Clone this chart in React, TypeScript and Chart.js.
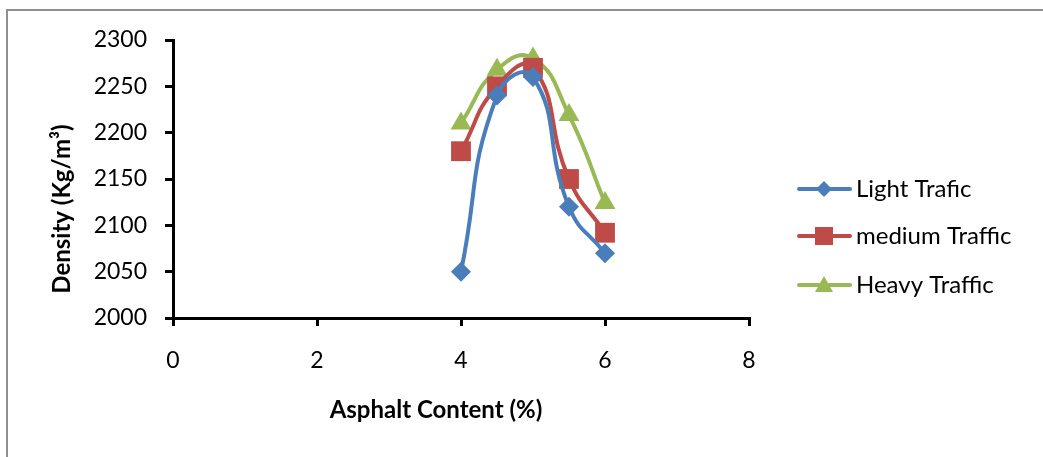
import React, { useEffect, useRef } from "react";
import { Chart, registerables } from "chart.js";

Chart.register(...registerables);

// Asphalt content (%) at which each mix was tested
const asphaltContent = [4, 4.5, 5, 5.5, 6];

// Density (Kg/m³) per traffic class
const lightTraffic = [2050, 2240, 2260, 2120, 2070];
const mediumTraffic = [2180, 2250, 2270, 2150, 2092];
const heavyTraffic = [2210, 2268, 2280, 2219, 2124];

const seriesNames = ["Light Trafic", "medium Traffic", "Heavy Traffic"];
const seriesColors = ["#4A7EBB", "#BE4B48", "#98B954"];
const seriesMarkers = ["rectRot", "rect", "triangle"];
const seriesRadius = [10, 14, 12];

const xTitle = "Asphalt Content (%)";
const yTitle = "Density (Kg/m³)";

const FONT = "Lato, 'Open Sans', sans-serif";

// Frame, axis captions and a line+marker legend drawn on the canvas
const decorations = {
  id: "decorations",
  beforeDraw(chart: any) {
    const { ctx } = chart;
    ctx.save();
    ctx.fillStyle = "#8f8f8f";
    ctx.fillRect(6, 9, chart.width, 2);
    ctx.fillRect(6, 9, 2, chart.height);
    ctx.restore();
  },
  afterDraw(chart: any) {
    const { ctx } = chart;
    ctx.save();
    ctx.fillStyle = "#000";
    ctx.font = `bold 24px ${FONT}`;
    ctx.textAlign = "center";
    ctx.textBaseline = "middle";
    ctx.fillText(xTitle, 436, 410);
    ctx.translate(62, 209);
    ctx.rotate(-Math.PI / 2);
    ctx.fillText(yTitle, 0, 0);
    ctx.restore();

    const rows = [189, 236, 285];
    chart.data.datasets.forEach((ds: any, i: number) => {
      const y = rows[i];
      const color = ds.borderColor;
      ctx.save();
      ctx.strokeStyle = color;
      ctx.lineWidth = 4;
      ctx.lineCap = "round";
      ctx.beginPath();
      ctx.moveTo(799, y);
      ctx.lineTo(850, y);
      ctx.stroke();
      ctx.fillStyle = color;
      ctx.beginPath();
      const cx = 824;
      if (i === 0) {
        ctx.moveTo(cx - 8, y);
        ctx.lineTo(cx, y - 8);
        ctx.lineTo(cx + 8, y);
        ctx.lineTo(cx, y + 8);
      } else if (i === 1) {
        ctx.rect(cx - 9, y - 9, 18, 18);
      } else {
        ctx.moveTo(cx, y - 9);
        ctx.lineTo(cx + 9, y + 7);
        ctx.lineTo(cx - 9, y + 7);
      }
      ctx.closePath();
      ctx.fill();
      ctx.fillStyle = "#000";
      ctx.font = `24px ${FONT}`;
      ctx.textAlign = "left";
      ctx.textBaseline = "middle";
      ctx.fillText(ds.label, 856, y);
      ctx.restore();
    });
  },
};

export default function App() {
  const canvasRef = useRef<HTMLCanvasElement | null>(null);

  useEffect(() => {
    const series = [lightTraffic, mediumTraffic, heavyTraffic];
    const chart = new Chart(canvasRef.current as HTMLCanvasElement, {
      type: "line",
      data: {
        datasets: series.map((values, i) => ({
          label: seriesNames[i],
          data: values.map((v, j) => ({ x: asphaltContent[j], y: v })),
          borderColor: seriesColors[i],
          backgroundColor: seriesColors[i],
          borderWidth: 4,
          tension: 0.5,
          pointStyle: seriesMarkers[i] as any,
          pointRadius: seriesRadius[i],
          pointBorderWidth: 0,
          fill: false,
        })),
      },
      options: {
        animation: false,
        responsive: false,
        events: [],
        layout: { padding: { left: 0, top: 40, right: 294, bottom: 0 } },
        plugins: { legend: { display: false }, tooltip: { enabled: false } },
        scales: {
          x: {
            type: "linear",
            min: 0,
            max: 8,
            ticks: {
              stepSize: 2,
              color: "#000",
              padding: 21,
              font: { family: FONT, size: 23 },
            },
            grid: {
              drawOnChartArea: false,
              drawTicks: true,
              tickLength: 8,
              color: "#000",
              lineWidth: 3,
            },
            border: { display: true, color: "#000", width: 3 },
            afterFit: (scale: any) => {
              scale.height = 457 - 40 - 278;
            },
          },
          y: {
            type: "linear",
            min: 2000,
            max: 2300,
            ticks: {
              stepSize: 50,
              color: "#000",
              padding: 18,
              font: { family: FONT, size: 23 },
              format: { useGrouping: false },
            },
            grid: {
              drawOnChartArea: false,
              drawTicks: true,
              tickLength: 8,
              color: "#000",
              lineWidth: 3,
            },
            border: { display: true, color: "#000", width: 3 },
            afterFit: (scale: any) => {
              scale.width = 173;
            },
          },
        },
      },
      plugins: [decorations],
    });
    return () => chart.destroy();
  }, []);

  return (
    <div style={{ position: "absolute", left: 0, top: 0, width: 1043, height: 457, background: "#fff" }}>
      <canvas ref={canvasRef} width={1043} height={457} style={{ display: "block" }} />
    </div>
  );
}
